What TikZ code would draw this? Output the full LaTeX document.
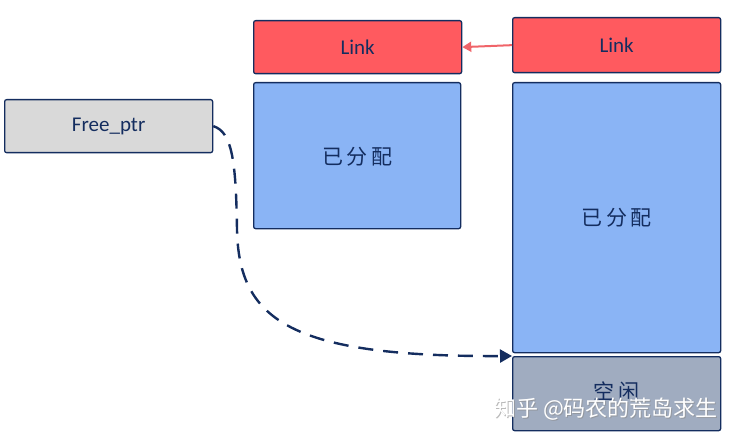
\documentclass[tikz,border=0pt]{standalone}
\usepackage{fontspec}
\setmainfont{Carlito}
\newfontfamily\cjkfont{Noto Sans CJK SC}
\usepackage{tikz}
\usetikzlibrary{arrows.meta, positioning, calc}
\definecolor{linkred}  {RGB}{255,  90,  95}
\definecolor{linkarrow}{RGB}{240, 100, 105}
\definecolor{usedblue} {RGB}{138, 180, 245}
\definecolor{freegrey} {RGB}{160, 172, 192}
\definecolor{ptrgrey}  {RGB}{217, 217, 217}
\definecolor{inkblue}  {RGB}{ 20,  45,  95}

\begin{document}
\begin{tikzpicture}[x=1pt, y=-1pt,
	blk/.style={draw=inkblue, line width=1.3pt, rounded corners=2pt, anchor=north west,
		inner sep=0pt, text=inkblue, font=\fontsize{21}{21}\selectfont},
	cjk/.style={font=\cjkfont\fontsize{21}{21}\selectfont, text=inkblue},
	wmark/.style={font=\cjkfont\fontsize{22}{22}\selectfont},
	arr/.style={-{Triangle[length=12pt,width=13pt]}, line width=2.4pt, color=inkblue}]
	\useasboundingbox (0,0) rectangle (734,441);
	% upper link row
	\node[blk, fill=linkred, minimum width=208pt, minimum height=53pt] (linkl) at (253,20) {Link};
	\node[blk, fill=linkred, minimum width=208pt, minimum height=55pt] (linkr) at (512,17) {Link};
	% memory blocks
	\node[blk, fill=usedblue, minimum width=207pt, minimum height=146pt] (usedl) at (253,82) {};
	\node[cjk] at ($(usedl.north)+(0,75)$) {已\,分\,配};
	\node[blk, fill=usedblue, minimum width=208pt, minimum height=270pt] (usedr) at (512,82) {};
	\node[cjk] at (usedr.center) {已\,分\,配};
	\node[blk, fill=freegrey, minimum width=208pt, minimum height=74pt] (free) at (512,356) {};
	\node[cjk] at ($(free.north)+(0,35)$) {空\,闲};
	\node[blk, fill=ptrgrey, minimum width=208pt, minimum height=53pt] (ptr) at (4,99) {Free\_ptr};
	% arrows
	\draw[-{Triangle[length=9pt,width=10pt]}, line width=2pt, color=linkarrow] (linkr.west) -- (linkl.east);
	\draw[arr, dash pattern=on 15pt off 10pt] (ptr.east) .. controls (232,132) and (236,160) .. (237,230)
		.. controls (239,320) and (290,357) .. (free.north west);
	% watermark
	\node[wmark, text=black!45, opacity=0.6] at (607,410) {知乎 @码农的荒岛求生};
	\node[wmark, text=white] (mark) at (606,409) {知乎 @码农的荒岛求生};
\end{tikzpicture}
\end{document}
